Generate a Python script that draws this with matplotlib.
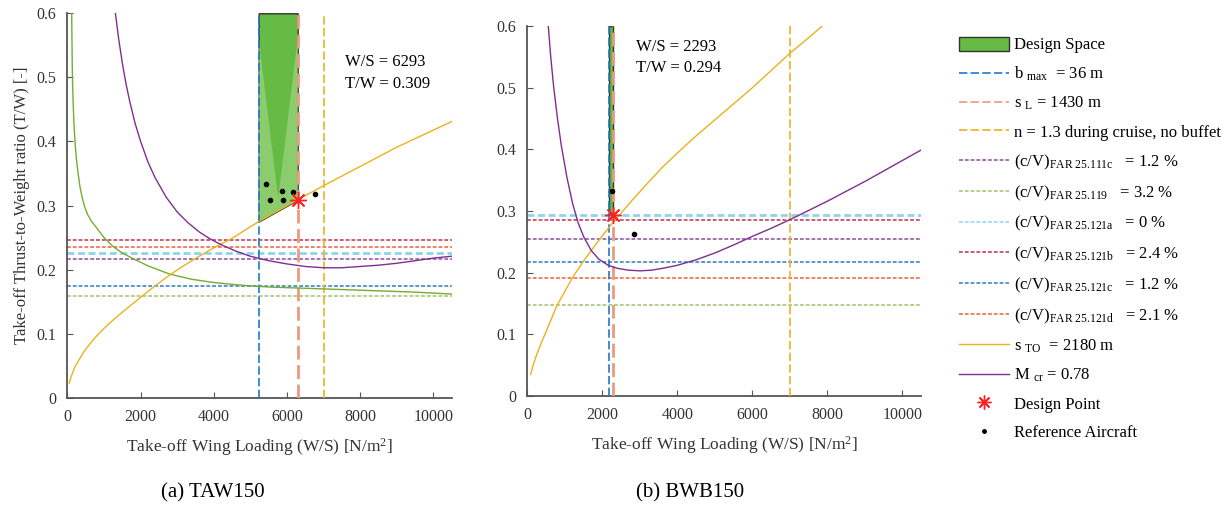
import numpy as np
import matplotlib
matplotlib.use("Agg")
import matplotlib.pyplot as plt
from matplotlib.patches import Patch, Polygon
from matplotlib.lines import Line2D

plt.rcParams['font.family'] = ['Liberation Serif', 'DejaVu Serif']
plt.rcParams['mathtext.fontset'] = 'custom'
plt.rcParams['mathtext.rm'] = 'Liberation Serif'
plt.rcParams['mathtext.it'] = 'Liberation Serif:italic'

# ---------------- TAW150 (left) ----------------
taw_hline_vals = [0.217, 0.1595, 0.2265, 0.2463, 0.175, 0.2354]   # 111c, 119, 121a, 121b, 121c, 121d
taw_bmax = 5227
taw_sL = 6293
taw_buffet = 7000
taw_sto_x = [50, 100, 200, 300, 450, 650, 850, 1100, 1400, 1700, 2000, 2400, 2800, 3200, 3600, 4000,
             4500, 5227, 6293, 7000, 8000, 9000, 10500]
taw_sto_y = [0.023, 0.033, 0.048, 0.058, 0.072, 0.087, 0.100, 0.114, 0.129, 0.143, 0.157, 0.175, 0.192,
             0.207, 0.221, 0.234, 0.249, 0.275, 0.309, 0.331, 0.361, 0.391, 0.431]
taw_mcr_x = [1310, 1400, 1500, 1600, 1700, 1850, 2000, 2200, 2400, 2700, 3000, 3300, 3600, 3900, 4200,
             4600, 5000, 5500, 6000, 6500, 7000, 7500, 8000, 8500, 9000, 9500, 10000, 10500]
taw_mcr_y = [0.600, 0.560, 0.522, 0.490, 0.463, 0.428, 0.400, 0.368, 0.343, 0.313, 0.290, 0.273, 0.259,
             0.248, 0.239, 0.229, 0.221, 0.214, 0.209, 0.205, 0.203, 0.203, 0.205, 0.207, 0.210, 0.214,
             0.218, 0.221]
taw_green_x = [115, 122, 130, 140, 155, 175, 205, 240, 290, 340, 400, 470, 550, 650, 800, 1000, 1250,
               1500, 1800, 2200, 2800, 3400, 4000, 4700, 5500, 6500, 7500, 8500, 9500, 10500]
taw_green_y = [0.60, 0.56, 0.52, 0.49, 0.46, 0.43, 0.40, 0.375, 0.35, 0.33, 0.313, 0.298, 0.286, 0.276,
               0.265, 0.25, 0.236, 0.226, 0.217, 0.206, 0.193, 0.185, 0.180, 0.176, 0.173, 0.171, 0.169,
               0.167, 0.165, 0.162]
taw_ref_x = [5441, 5550, 5860, 5888, 6179, 6772]
taw_ref_y = [0.334, 0.309, 0.322, 0.309, 0.321, 0.318]
taw_design = (6293, 0.309)

# ---------------- BWB150 (right) ----------------
bwb_hline_vals = [0.255, 0.148, 0.294, 0.285, 0.217, 0.191]
bwb_bmax = 2182
bwb_sL = 2293
bwb_buffet = 7000
bwb_sto_x = [85, 150, 250, 380, 500, 650, 780, 1000, 1200, 1450, 1750, 2050, 2400, 2800, 3200, 3600,
             4100, 4500, 5000, 5500, 6000, 6500, 7000, 7400, 7860]
bwb_sto_y = [0.035, 0.050, 0.068, 0.088, 0.105, 0.127, 0.146, 0.170, 0.192, 0.215, 0.240, 0.264, 0.290,
             0.318, 0.345, 0.371, 0.400, 0.422, 0.448, 0.474, 0.500, 0.528, 0.556, 0.576, 0.600]
bwb_mcr_x = [555, 620, 700, 800, 900, 1050, 1200, 1350, 1500, 1700, 1900, 2150, 2400, 2700, 3000, 3300,
             3600, 4000, 4500, 5000, 5500, 6000, 6500, 7000, 7500, 8000, 8500, 9000, 9500, 10000, 10500]
bwb_mcr_y = [0.600, 0.550, 0.500, 0.450, 0.407, 0.355, 0.313, 0.281, 0.258, 0.236, 0.222, 0.212, 0.207,
             0.204, 0.203, 0.204, 0.207, 0.212, 0.221, 0.232, 0.245, 0.259, 0.272, 0.286, 0.301, 0.316,
             0.332, 0.348, 0.365, 0.382, 0.399]
bwb_ref_x = [2266, 2843]
bwb_ref_y = [0.332, 0.262]
bwb_design = (2293, 0.294)

hline_names = ['FAR 25.111c', 'FAR 25.119', 'FAR 25.121a', 'FAR 25.121b', 'FAR 25.121c', 'FAR 25.121d']
hline_pct = ['1.2', '3.2', '0', '2.4', '1.2', '2.1']
hline_colors = ['#8E4A9E', '#9CC46A', '#8ED3F0', '#C0304A', '#2A7CC0', '#E8603C']
hline_lw = [1.1, 1.1, 2.0, 1.1, 1.1, 1.1]

c_blue = '#1F78C8'
c_salmon = '#EB9A7E'
c_yellow = '#EDB120'
c_purple = '#7E2F8E'
c_green = '#77AC30'
c_fill = '#66BB44'

vdash = (0, (5, 2))
hdot = (0, (2.5, 1.3))

fig = plt.figure(figsize=(12.27, 5.07), dpi=100)
ax1 = fig.add_axes([0.0550, 0.2152, 0.3130, 0.7586])
ax2 = fig.add_axes([0.4299, 0.2189, 0.3209, 0.7298])


def draw(ax, hvals, bmax, sL, buffet, sx, sy, mx, my, rx, ry, dp, gx=None, gy=None):
    # design space: between bmax and sL, above the highest constraint
    xs = np.linspace(bmax, sL, 30)
    low = np.maximum(np.interp(xs, sx, sy), np.interp(xs, mx, my))
    low = np.maximum(low, max(hvals))
    if gx is not None:
        low = np.maximum(low, np.interp(xs, gx, gy))
    ax.fill_between(xs, low, 0.6, color=c_fill, edgecolor='#333333', lw=1.0, zorder=1)
    if sL - bmax > 500:
        xm = 0.5 * (bmax + sL)
        lm = np.interp(xm, xs, low)
        for xe, le in [(bmax, low[0]), (sL, low[-1])]:
            ax.add_patch(Polygon([(xe, 0.56), (xe, le), (xm, lm), (xm, lm + 0.02)],
                                 closed=True, color='#9BD47F', alpha=0.7, lw=0, zorder=1.5))
    for v, c, lw in zip(hvals, hline_colors, hline_lw):
        ax.axhline(v, color=c, ls=hdot, lw=lw, zorder=2)
    ax.axvline(bmax, color=c_blue, ls=vdash, lw=1.2, zorder=3)
    ax.axvline(sL, color=c_salmon, ls=vdash, lw=2.0, zorder=3)
    ax.axvline(buffet, color=c_yellow, ls=vdash, lw=1.2, zorder=3)
    if gx is not None:
        ax.plot(gx, gy, color=c_green, lw=1.0, zorder=3)
    ax.plot(sx, sy, color=c_yellow, lw=1.0, zorder=4)
    ax.plot(mx, my, color=c_purple, lw=1.0, zorder=4)
    ax.plot(rx, ry, 'o', color='black', ms=3, zorder=5)
    ax.plot([dp[0]], [dp[1]], marker=(8, 2, 0), color='#FF2020', ms=12, mew=1.0, ls='none', zorder=6)

    ax.set_xlim(0, 10500)
    ax.set_ylim(0, 0.6)
    ax.set_xticks(range(0, 10001, 2000))
    ax.set_yticks([0, 0.1, 0.2, 0.3, 0.4, 0.5, 0.6])
    ax.set_yticklabels(['0', '0.1', '0.2', '0.3', '0.4', '0.5', '0.6'])
    for s in ['top', 'right']:
        ax.spines[s].set_visible(False)
    for s in ['left', 'bottom']:
        ax.spines[s].set_color('#555555')
        ax.spines[s].set_linewidth(1.3)
    ax.tick_params(direction='in', length=4, colors='#555555', labelcolor='#333333',
                   labelsize=11.5, pad=8)
    ax.set_xlabel('Take-off Wing Loading (W/S) [N/m$^2$]', fontsize=12.5, color='#333333', labelpad=8)


draw(ax1, taw_hline_vals, taw_bmax, taw_sL, taw_buffet, taw_sto_x, taw_sto_y,
     taw_mcr_x, taw_mcr_y, taw_ref_x, taw_ref_y, taw_design, taw_green_x, taw_green_y)
draw(ax2, bwb_hline_vals, bwb_bmax, bwb_sL, bwb_buffet, bwb_sto_x, bwb_sto_y,
     bwb_mcr_x, bwb_mcr_y, bwb_ref_x, bwb_ref_y, bwb_design)

ax1.set_ylabel('Take-off Thrust-to-Weight ratio (T/W) [-]', fontsize=12, color='#333333', labelpad=5)

ax1.text(7590, 0.507, 'W/S = %d\nT/W = %.3f' % taw_design, fontsize=12, va='center', linespacing=1.45)
ax2.text(2893, 0.549, 'W/S = %d\nT/W = %.3f' % bwb_design, fontsize=12, va='center', linespacing=1.45)

fig.text(213 / 1227, 1 - 493 / 507, '(a) TAW150', ha='center', va='center', fontsize=15)
fig.text(690 / 1227, 1 - 493 / 507, '(b) BWB150', ha='center', va='center', fontsize=15)

handles = [Patch(facecolor=c_fill, edgecolor='#333333', lw=1.0),
           Line2D([], [], color=c_blue, ls=vdash, lw=1.2),
           Line2D([], [], color=c_salmon, ls=vdash, lw=1.2),
           Line2D([], [], color=c_yellow, ls=vdash, lw=1.2)]
labels = ['Design Space', r'b $_{\mathrm{max}}$  = 36 m', r's $_{\mathrm{L}}$ = 1430 m',
          'n = 1.3 during cruise, no buffet']
for n, p, c in zip(hline_names, hline_pct, hline_colors):
    handles.append(Line2D([], [], color=c, ls=hdot, lw=1.1))
    labels.append(r'(c/V)$_{\mathrm{' + n.replace(' ', r'\ ') + '}}$   = ' + p + ' %')
handles += [Line2D([], [], color=c_yellow, lw=1.0),
            Line2D([], [], color=c_purple, lw=1.0),
            Line2D([], [], marker=(8, 2, 0), color='#FF2020', ms=10, ls='none'),
            Line2D([], [], marker='o', color='black', ms=2.5, ls='none')]
labels += [r's $_{\mathrm{TO}}$  = 2180 m', r'M $_{\mathrm{cr}}$ = 0.78', 'Design Point', 'Reference Aircraft']

fig.legend(handles, labels, loc='upper left', bbox_to_anchor=(952 / 1227, 1 - 30 / 507),
           frameon=False, fontsize=12.0, handlelength=3.0, handleheight=0.9,
           handletextpad=0.3, labelspacing=0.7, borderaxespad=0)

fig.savefig('out.png', dpi=100)
